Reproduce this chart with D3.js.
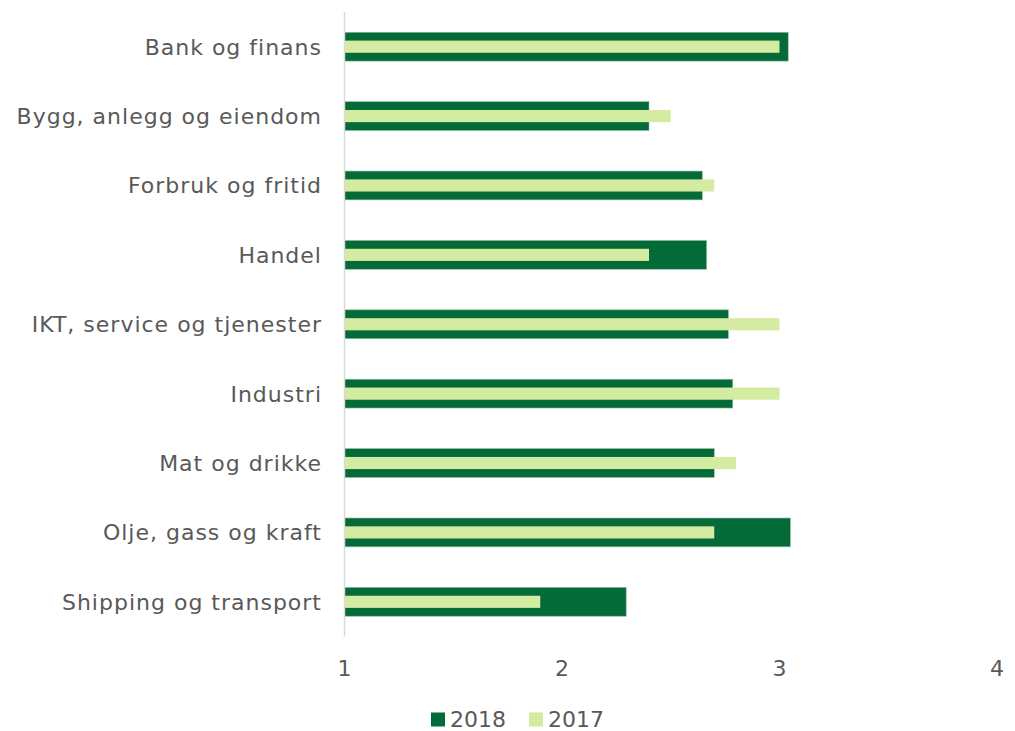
<!DOCTYPE html>
<html><head><meta charset="utf-8">
<script src="https://cdn.jsdelivr.net/npm/d3@7"></script>
<style>body{margin:0;background:#fff}svg{display:block}text{font-family:"DejaVu Sans",Verdana,sans-serif;fill:#595959}</style>
</head><body><svg id="c" width="1015" height="731"></svg>
<script>
const categories=["Bank og finans","Bygg, anlegg og eiendom","Forbruk og fritid","Handel","IKT, service og tjenester","Industri","Mat og drikke","Olje, gass og kraft","Shipping og transport"];
const values2018=[3.04,2.40,2.645,2.665,2.765,2.785,2.70,3.05,2.295];
const values2017=[3.00,2.50,2.70,2.40,3.00,3.00,2.80,2.70,1.90];
const xTicks=[1,2,3,4];
const seriesNames=["2018","2017"];
const colors=["#046a38","#d4eca1"];

const svg=d3.select("#c");
const x=d3.scaleLinear().domain([1,4]).range([344.5,997]);
const y=d3.scaleBand().domain(categories).range([12,636.5]);
const bw=y.bandwidth();
const h18=bw*0.415, h17=bw*0.175;

const g=svg.append("g");
g.selectAll("rect.b18").data(categories).join("rect").attr("class","b18")
 .attr("x",x(1)).attr("y",d=>y(d)+bw/2-h18/2).attr("height",h18)
 .attr("width",(d,i)=>x(values2018[i])-x(1)).attr("fill",colors[0])
 .attr("stroke","#8fb9a0").attr("stroke-width",0.6);
g.selectAll("rect.b17").data(categories).join("rect").attr("class","b17")
 .attr("x",x(1)).attr("y",d=>y(d)+bw/2-h17/2).attr("height",h17)
 .attr("width",(d,i)=>x(values2017[i])-x(1)).attr("fill",colors[1]);

svg.append("line").attr("x1",x(1)).attr("x2",x(1)).attr("y1",12).attr("y2",636.5)
 .attr("stroke","#d9d9d9").attr("stroke-width",1.5);

svg.selectAll("text.cat").data(categories).join("text").attr("class","cat")
 .attr("x",322).attr("y",d=>y(d)+bw/2).attr("dy","0.36em").attr("text-anchor","end")
 .attr("font-size",22).attr("letter-spacing",1).text(d=>d);

svg.selectAll("text.xt").data(xTicks).join("text").attr("class","xt")
 .attr("x",d=>x(d)).attr("y",668.5).attr("dy","0.36em").attr("text-anchor","middle")
 .attr("font-size",22).text(d=>d);

const leg=svg.append("g");
const lx=[431,529];
seriesNames.forEach((s,i)=>{
  leg.append("rect").attr("x",lx[i]).attr("y",712.5).attr("width",14).attr("height",14).attr("fill",colors[i]);
  leg.append("text").attr("x",lx[i]+19).attr("y",726.5).attr("font-size",22).text(s);
});
</script></body></html>
